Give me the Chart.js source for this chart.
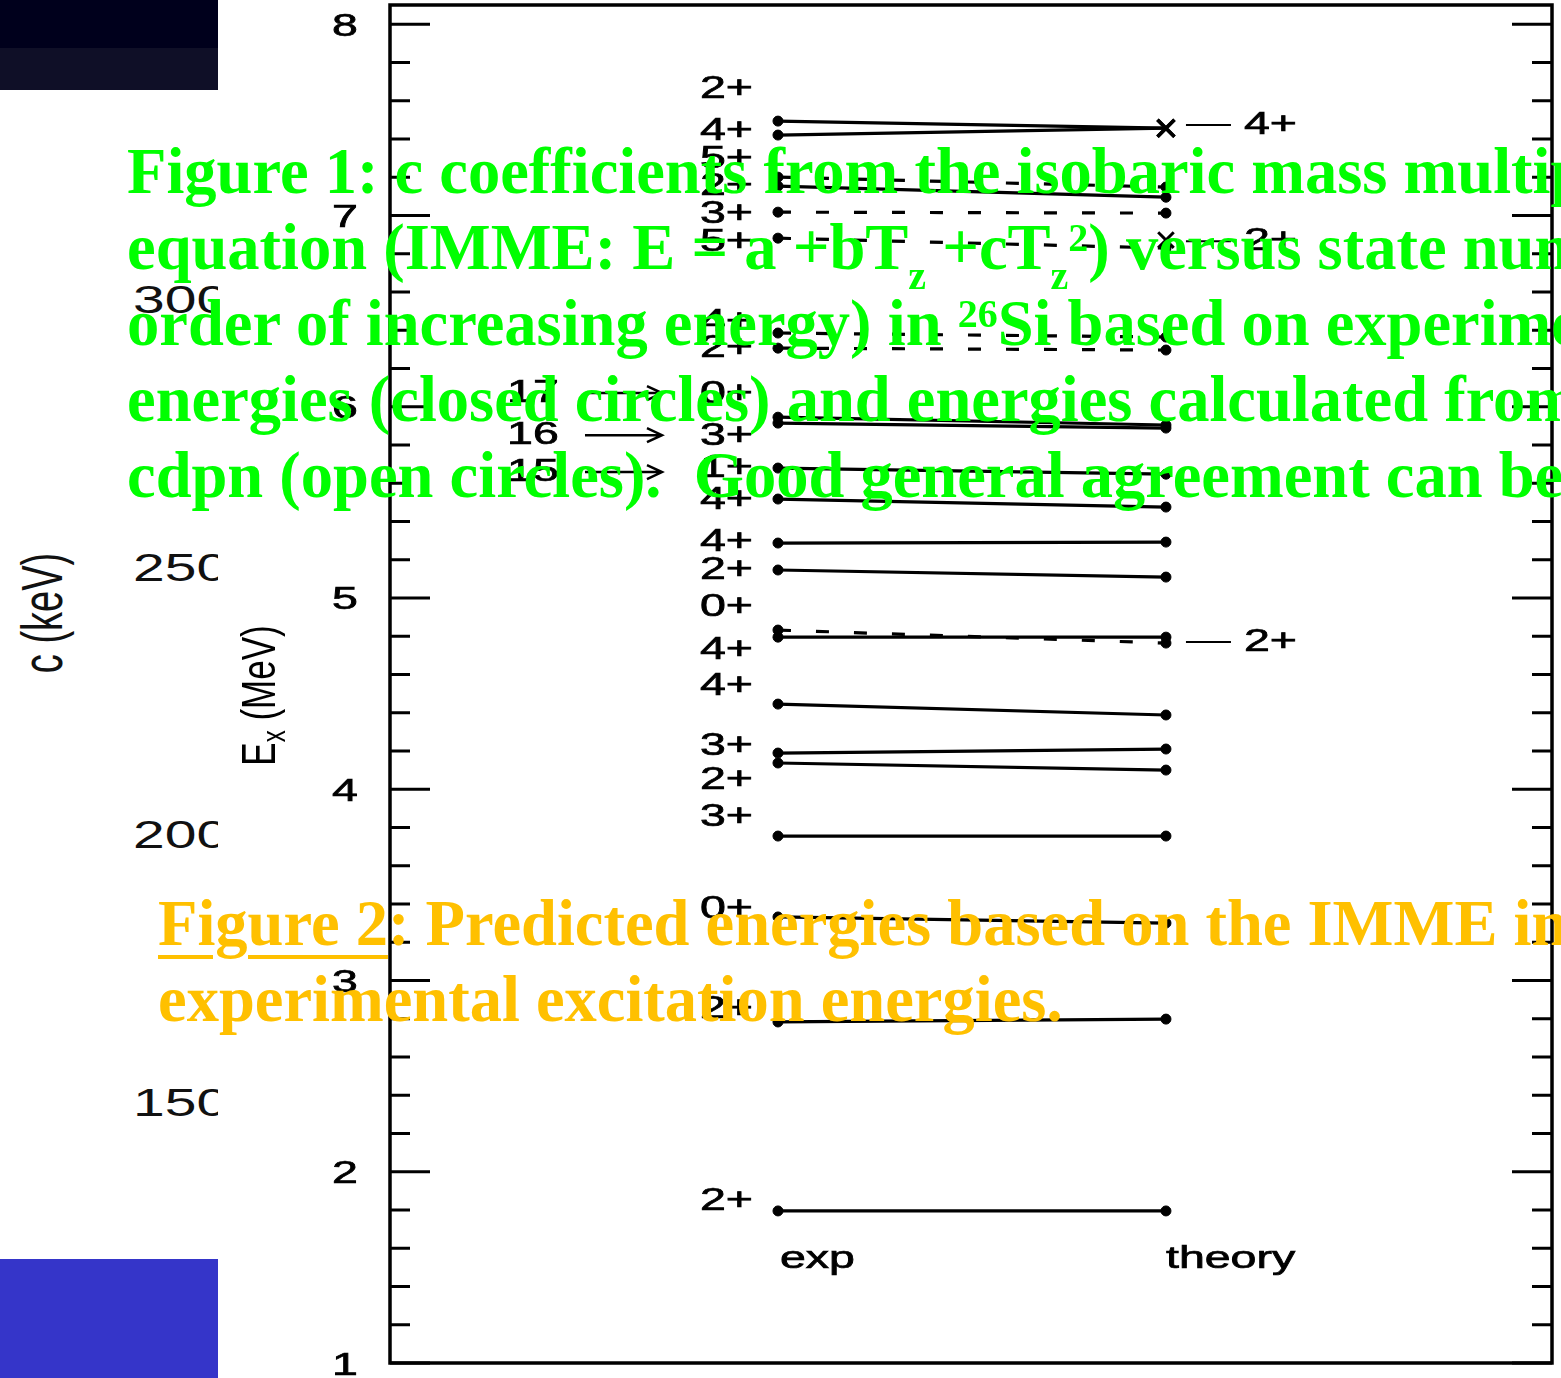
<!DOCTYPE html>
<html>
<head>
<meta charset="utf-8">
<script src="https://cdn.jsdelivr.net/npm/chart.js@4.4.0/dist/chart.umd.min.js"></script>
<style>
html, body { margin: 0; padding: 0; background: #fff; }
#page { position: relative; width: 1561px; height: 1378px; overflow: hidden; background: #fff; }
#navy { position: absolute; left: 0; top: 0; width: 218px; height: 90px;
  background: linear-gradient(#00001c 0px, #00001c 48px, #0f0f27 48px, #0f0f27 90px); }
#blue { position: absolute; left: 0; top: 1259px; width: 218px; height: 119px; background: #3535c9; }
#ckev { position: absolute; left: 42px; top: 613px; font: 38px "Liberation Sans", Arial, sans-serif;
  line-height: 1; white-space: nowrap; color: #111;
  transform: translate(-50%, -50%) rotate(-90deg) scaleY(1.5); }
.cnum { position: absolute; left: 133px; font: 38px "Liberation Sans", Arial, sans-serif; line-height: 1;
  color: #111; transform: translateY(-50%) scaleX(1.5); transform-origin: left center; }
#chartbox { position: absolute; left: 218px; top: 0; width: 1343px; height: 1378px; background: #fff; }
.cap { position: absolute; font: bold 64.5px "Liberation Serif", "Times New Roman", serif;
  line-height: 76px; white-space: nowrap; }
.cap sub, .cap sup { font-size: 0.62em; line-height: 0; vertical-align: baseline; position: relative; }
.cap sub { top: 0.5em; }
.cap sup { top: -0.45em; }
#cap1 { left: 127px; top: 134px; color: #00ff00; }
#cap2 { left: 158px; top: 886px; color: #ffc000; }
#cap2 u { text-decoration-thickness: 4px; text-underline-offset: 10px; }
</style>
</head>
<body>
<div id="page">
  <div id="navy"></div>
  <div id="blue"></div>
  <div id="ckev">c (keV)</div>
  <div class="cnum" style="top:300px">300</div>
  <div class="cnum" style="top:568px">250</div>
  <div class="cnum" style="top:835px">200</div>
  <div class="cnum" style="top:1103px">150</div>

  <div id="chartbox"><canvas id="chart" width="1343" height="1378"></canvas></div>

  <div class="cap" id="cap1">Figure 1: c coefficients from the isobaric mass multiplet<br>
equation (IMME: E = a +bT<sub>z</sub> +cT<sub>z</sub><sup>2</sup>) versus state number in<br>
order of increasing energy) in <sup>26</sup>Si based on experimental<br>
energies (closed circles) and energies calculated from<br>
cdpn (open circles).&nbsp; Good general agreement can be seen.</div>
  <div class="cap" id="cap2"><u>Figure 2</u>: Predicted energies based on the IMME in<br>
experimental excitation energies.</div>
</div>

<script>
// 26Si levels, MeV : experiment (left column) vs theory (right column)
const expE = [7.493, 7.420, 7.200, 7.153, 7.017, 6.881, 6.385, 6.306, 5.945, 5.914, 5.679, 5.517,
  5.287, 5.146, 4.832, 4.795, 4.445, 4.189, 4.137, 3.755, 3.332, 2.783, 1.795];
const theoryE = [7.456, 7.456, 7.148, 7.095, 7.012, 6.829, 6.364, 6.296, 5.904, 5.888, 5.647, 5.475,
  5.292, 5.109, 4.764, 4.795, 4.388, 4.210, 4.100, 3.755, 3.300, 2.798, 1.795];
const tentative = [false, false, true, false, true, true, true, true, false, false, false, false,
  false, false, true, false, false, false, false, false, false, false, false];
const crossed = [true, true, false, false, false, false, false, false, false, false, false, false,
  false, false, false, false, false, false, false, false, false, false, false];

// spin labels beside the exp column and the energies they sit at
const spins = ["2+", "4+", "5+", "2+", "3+", "5+", "4+", "2+", "0+", "3+", "1+", "4+",
  "4+", "2+", "0+", "4+", "4+", "3+", "2+", "3+", "0+", "2+", "2+"];
const spinLabelE = [7.660, 7.440, 7.294, 7.153, 7.007, 6.860, 6.442, 6.306, 6.066, 5.846, 5.679, 5.511,
  5.292, 5.146, 4.952, 4.727, 4.539, 4.225, 4.048, 3.854, 3.373, 2.851, 1.842];

// theory-only level
const extraTheoryE = [6.871];

// labels on the right of theory column
const rightSpins = ["4+", "2+", "2+"];
const rightE = [7.472, 6.865, 4.769];

// numbered arrows
const arrowLabels = ["17", "16", "15"];
const arrowE = [6.071, 5.851, 5.658];

const columnNames = ["exp", "theory"];
const columnNameE = 1.497;

const yTickValues = [1, 2, 3, 4, 5, 6, 7, 8];
const yTickLabels = ["1", "2", "3", "4", "5", "6", "7", "8"];

const SX = 1.5; // the plot is stretched sideways
const FONT = '"Liberation Sans", Arial, Helvetica, sans-serif';

function stretchText(ctx, txt, x, y, align) {
  ctx.save();
  ctx.translate(x, y);
  ctx.scale(SX, 1);
  ctx.textAlign = align;
  ctx.fillText(txt, 0, 0);
  ctx.lineWidth = 0.7;
  ctx.strokeText(txt, 0, 0);
  ctx.restore();
}

const datasets = [];
for (let i = 0; i < expE.length; i++) {
  datasets.push({
    data: [{x: 0, y: expE[i]}, {x: 1, y: theoryE[i]}],
    showLine: true,
    borderColor: "#000",
    borderWidth: 3.2,
    borderDash: tentative[i] ? [13, 25] : [],
    pointStyle: ["circle", crossed[i] ? "crossRot" : "circle"],
    pointRadius: [5, crossed[i] ? 12 : 5],
    pointBorderWidth: [1, crossed[i] ? 3.5 : 1],
    pointBackgroundColor: "#000",
    pointBorderColor: "#000"
  });
}
datasets.push({
  data: extraTheoryE.map(e => ({x: 1, y: e})),
  showLine: false,
  pointStyle: "crossRot",
  pointRadius: 11,
  pointBorderWidth: 3,
  pointBorderColor: "#000"
});

const framePlugin = {
  id: "frame",
  afterDraw(chart) {
    const ctx = chart.ctx;
    const a = chart.chartArea;
    const xs = chart.scales.x, ys = chart.scales.y;
    ctx.save();
    ctx.strokeStyle = "#000";
    ctx.fillStyle = "#000";

    // box
    ctx.lineWidth = 3.5;
    ctx.strokeRect(a.left, a.top, a.right - a.left, a.bottom - a.top);

    // ticks, inside on both sides
    ctx.lineWidth = 3;
    for (let k = 0; k <= 35; k++) {
      const v = 1 + k * 0.2;
      const y = ys.getPixelForValue(v);
      const len = (k % 5 === 0) ? 40 : 20;
      ctx.beginPath();
      ctx.moveTo(a.left, y); ctx.lineTo(a.left + len, y);
      ctx.moveTo(a.right, y); ctx.lineTo(a.right - len, y);
      ctx.stroke();
    }

    ctx.font = "31px " + FONT;
    ctx.textBaseline = "middle";
    yTickValues.forEach((v, i) => {
      stretchText(ctx, yTickLabels[i], 127, ys.getPixelForValue(v) + 3, "center");
    });

    // axis title E_x (MeV)
    ctx.save();
    const tY = ys.getPixelForValue(4.49);
    ctx.translate(57, tY);
    ctx.rotate(-Math.PI / 2);
    ctx.scale(1, 1.4);
    ctx.textBaseline = "alphabetic";
    ctx.textAlign = "left";
    ctx.font = "35px " + FONT;
    const wE = ctx.measureText("E").width;
    const rest = " (MeV)";
    const wR = ctx.measureText(rest).width;
    ctx.font = "24px " + FONT;
    const wX = ctx.measureText("x").width;
    const total = wE + wX + wR;
    let px = -total / 2;
    ctx.font = "35px " + FONT;
    ctx.fillText("E", px, 0); px += wE;
    ctx.font = "24px " + FONT;
    ctx.fillText("x", px, 7); px += wX;
    ctx.font = "35px " + FONT;
    ctx.fillText(rest, px, 0);
    ctx.restore();

    const x0 = xs.getPixelForValue(0);
    const x1 = xs.getPixelForValue(1);

    // spin labels next to exp column
    ctx.font = "31px " + FONT;
    ctx.textBaseline = "middle";
    spins.forEach((s, i) => {
      stretchText(ctx, s, x0 - 25, ys.getPixelForValue(spinLabelE[i]), "right");
    });

    // right side labels
    rightSpins.forEach((s, i) => {
      const y = ys.getPixelForValue(rightE[i]);
      ctx.lineWidth = 2;
      ctx.beginPath();
      ctx.moveTo(x1 + 20, y); ctx.lineTo(x1 + 65, y);
      ctx.stroke();
      stretchText(ctx, s, x1 + 78, y, "left");
    });

    // numbered arrows
    arrowLabels.forEach((s, i) => {
      const y = ys.getPixelForValue(arrowE[i]);
      stretchText(ctx, s, x0 - 245, y, "center");
      const xa = x0 - 193, xb = x0 - 116;
      ctx.lineWidth = 2.5;
      ctx.beginPath();
      ctx.moveTo(xa, y); ctx.lineTo(xb, y);
      ctx.moveTo(xb - 15, y - 7); ctx.lineTo(xb, y); ctx.lineTo(xb - 15, y + 7);
      ctx.stroke();
    });

    // column names
    ctx.textBaseline = "alphabetic";
    const yc = ys.getPixelForValue(columnNameE);
    stretchText(ctx, columnNames[0], x0 + 2, yc, "left");
    stretchText(ctx, columnNames[1], x1, yc, "left");

    ctx.restore();
  }
};

new Chart(document.getElementById("chart"), {
  type: "scatter",
  data: { datasets: datasets },
  options: {
    responsive: false,
    animation: false,
    events: [],
    layout: { autoPadding: false, padding: { left: 172, top: 5, right: 9, bottom: 15 } },
    scales: {
      x: { type: "linear", min: -1, max: 1.995, display: false },
      y: { type: "linear", min: 1, max: 8.1, display: false }
    },
    plugins: { legend: { display: false }, tooltip: { enabled: false } }
  },
  plugins: [framePlugin]
});
</script>
</body>
</html>
